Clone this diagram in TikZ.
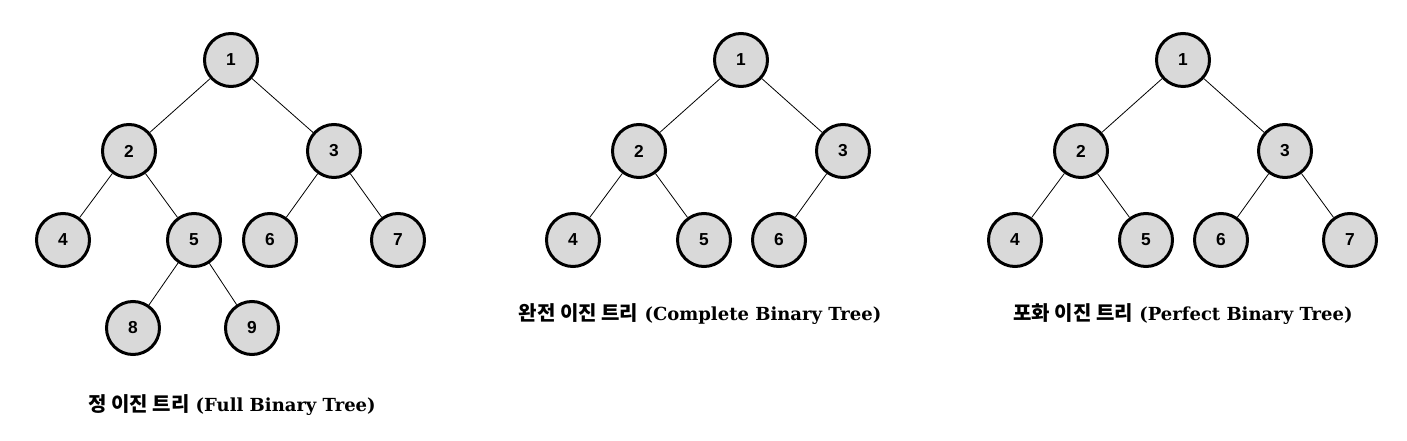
\documentclass[tikz,border=0pt]{standalone}
\usepackage{fontspec}
\setmainfont{DejaVu Serif}
\setsansfont{Liberation Sans}
\newfontfamily\kofont{Noto Sans CJK KR}
\usetikzlibrary{positioning}
\definecolor{nodefill}{HTML}{D9D9D9}
\definecolor{ink}     {HTML}{000000}
\tikzset{
  tnode/.style={
    circle, draw=ink, line width=2.25pt, fill=nodefill,
    minimum size=39.75pt, inner sep=0pt,
    font=\sffamily\bfseries\fontsize{13}{15}\selectfont
  },
  tedge/.style={line width=0.6pt, draw=ink},
  tlabel/.style={font=\bfseries\fontsize{13.5}{16}\selectfont, text=ink}
}
\newcommand{\kolabel}[1]{{\kofont\fontsize{15}{18}\selectfont #1}}

\begin{document}
\begin{tikzpicture}[x=0.75pt, y=-0.75pt]
  \useasboundingbox (0,0) rectangle (1407,441);
  % full binary tree
  \node[tnode] (f1) at (231,60)  {1};
  \node[tnode] (f2) at (129,151) {2};
  \node[tnode] (f3) at (334,151) {3};
  \node[tnode] (f4) at (63,240)  {4};
  \node[tnode] (f5) at (194,240) {5};
  \node[tnode] (f6) at (270,240) {6};
  \node[tnode] (f7) at (398,240) {7};
  \node[tnode] (f8) at (133,328) {8};
  \node[tnode] (f9) at (252,328) {9};
  \foreach \a/\b in {f1/f2, f1/f3, f2/f4, f2/f5, f3/f6, f3/f7, f5/f8, f5/f9}
    \draw[tedge] (\a) -- (\b);
  \node[tlabel] (lfull) at (232,405) {\kolabel{정 이진 트리} (Full Binary Tree)};

  % complete binary tree
  \node[tnode] (c1) at (741,60)  {1};
  \node[tnode] (c2) at (639,151) {2};
  \node[tnode] (c3) at (843,151) {3};
  \node[tnode] (c4) at (573,240) {4};
  \node[tnode] (c5) at (704,240) {5};
  \node[tnode] (c6) at (779,240) {6};
  \foreach \a/\b in {c1/c2, c1/c3, c2/c4, c2/c5, c3/c6}
    \draw[tedge] (\a) -- (\b);
  \node[tlabel] (lcomplete) at (700,314) {\kolabel{완전 이진 트리} (Complete Binary Tree)};

  % perfect binary tree
  \node[tnode] (p1) at (1183,60)  {1};
  \node[tnode] (p2) at (1081,151) {2};
  \node[tnode] (p3) at (1285,151) {3};
  \node[tnode] (p4) at (1015,240) {4};
  \node[tnode] (p5) at (1146,240) {5};
  \node[tnode] (p6) at (1221,240) {6};
  \node[tnode] (p7) at (1350,240) {7};
  \foreach \a/\b in {p1/p2, p1/p3, p2/p4, p2/p5, p3/p6, p3/p7}
    \draw[tedge] (\a) -- (\b);
  \node[tlabel] (lperfect) at (1183,314) {\kolabel{포화 이진 트리} (Perfect Binary Tree)};
\end{tikzpicture}
\end{document}
